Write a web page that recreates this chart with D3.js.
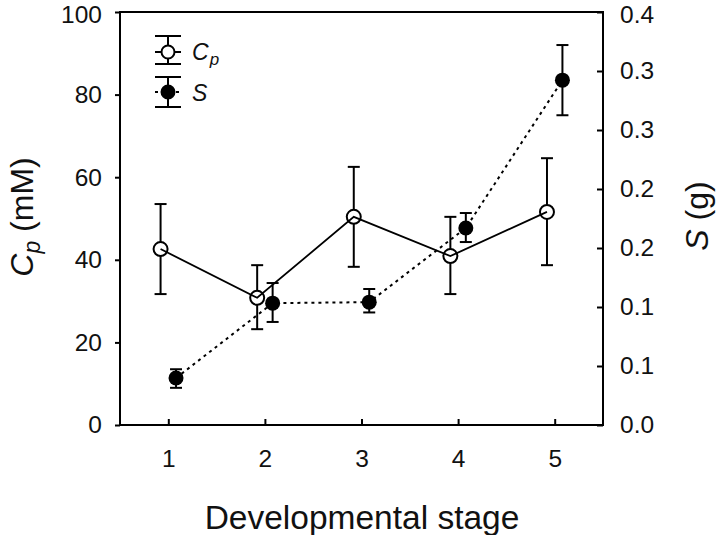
<!DOCTYPE html>
<html><head><meta charset="utf-8">
<script src="https://cdn.jsdelivr.net/npm/d3@7"></script>
<style>body{margin:0;background:#fff}svg{display:block;font-family:"Liberation Sans",Arial,sans-serif}</style>
</head><body>
<svg id="c" width="720" height="535"></svg>
<script>
const stages = [1, 2, 3, 4, 5];
const cpMean = [42.6, 30.8, 50.4, 40.9, 51.6];
const cpUpper = [53.5, 38.7, 62.5, 50.4, 64.6];
const cpLower = [31.7, 23.2, 38.3, 31.7, 38.7];
const sMean = [0.0455, 0.118, 0.119, 0.1908, 0.334];
const sUpper = [0.054, 0.1375, 0.1317, 0.2053, 0.368];
const sLower = [0.036, 0.0998, 0.109, 0.1772, 0.300];
const xTicks = [1, 2, 3, 4, 5];
const leftTicks = [0, 20, 40, 60, 80, 100];
const rightTickLabels = ["0.0", "0.1", "0.1", "0.2", "0.2", "0.3", "0.3", "0.4"];

const svg = d3.select("#c");
const L = 120, R = 603, T = 12, B = 425;
const x = d3.scaleLinear().domain([0.5, 5.5]).range([L, R]);
const yL = d3.scaleLinear().domain([0, 100]).range([B, T]);
const yR = d3.scaleLinear().domain([0, 0.4]).range([B, T]);
const off = 0.08;

// frame
svg.append("rect").attr("x", L).attr("y", T).attr("width", R - L).attr("height", B - T)
  .attr("fill", "none").attr("stroke", "#000").attr("stroke-width", 2);

// axes
const fs = 24.5;
const ax = svg.append("g").attr("transform", `translate(0,${B})`)
  .call(d3.axisBottom(x).tickValues(xTicks).tickFormat(d3.format("d")).tickSizeInner(-6).tickSizeOuter(0).tickPadding(25));
const ay = svg.append("g").attr("transform", `translate(${L},0)`)
  .call(d3.axisLeft(yL).tickValues(leftTicks).tickSizeInner(5).tickSizeOuter(0).tickPadding(13));
const rTickVals = rightTickLabels.map((_, i) => i * 0.4 / (rightTickLabels.length - 1));
const ar = svg.append("g").attr("transform", `translate(${R},0)`)
  .call(d3.axisRight(yR).tickValues(rTickVals).tickFormat((d, i) => rightTickLabels[i]).tickSizeInner(-6).tickSizeOuter(0).tickPadding(17));
[ax, ay, ar].forEach(g => {
  g.attr("font-size", fs).attr("font-family", "Liberation Sans, Arial, sans-serif");
  g.select(".domain").remove();
  g.selectAll(".tick line").attr("stroke", "#000").attr("stroke-width", 2);
  g.selectAll(".tick text").attr("font-size", fs).attr("fill", "#111");
});
// keep the topmost labels inside the page
ay.selectAll(".tick text").filter(d => d === 100).attr("dy", "0.42em");
ar.selectAll(".tick text").filter(d => Math.abs(d - 0.4) < 1e-9).attr("dy", "0.42em");

// S dotted line
const sPts = stages.map((s, i) => [x(s + off), yR(sMean[i])]);
svg.append("path").attr("d", d3.line()(sPts)).attr("fill", "none").attr("stroke", "#000")
  .attr("stroke-width", 2).attr("stroke-dasharray", "3,4");

function errBars(xs, lo, hi, ysc) {
  const g = svg.append("g").attr("stroke", "#000").attr("stroke-width", 2);
  xs.forEach((s, i) => {
    const cx = x(s);
    g.append("line").attr("x1", cx).attr("x2", cx).attr("y1", ysc(lo[i])).attr("y2", ysc(hi[i]));
    g.append("line").attr("x1", cx - 6).attr("x2", cx + 6).attr("y1", ysc(lo[i])).attr("y2", ysc(lo[i]));
    g.append("line").attr("x1", cx - 6).attr("x2", cx + 6).attr("y1", ysc(hi[i])).attr("y2", ysc(hi[i]));
  });
}
errBars(stages.map(s => s + off), sLower, sUpper, yR);
errBars(stages.map(s => s - off), cpLower, cpUpper, yL);

// Cp markers
const cpPts = stages.map((s, i) => [x(s - off), yL(cpMean[i])]);
svg.append("g").selectAll("circle").data(cpPts).join("circle")
  .attr("cx", d => d[0]).attr("cy", d => d[1]).attr("r", 7)
  .attr("fill", "#fff").attr("stroke", "#000").attr("stroke-width", 2);
svg.append("path").attr("d", d3.line()(cpPts)).attr("fill", "none").attr("stroke", "#000").attr("stroke-width", 1.8);
// S markers
svg.append("g").selectAll("circle").data(sPts).join("circle")
  .attr("cx", d => d[0]).attr("cy", d => d[1]).attr("r", 7.5).attr("fill", "#000");

// legend
const lg = svg.append("g").attr("stroke", "#000").attr("stroke-width", 2);
function legItem(cy, top, bot, filled, dashed) {
  const cx = 168;
  lg.append("line").attr("x1", cx).attr("x2", cx).attr("y1", top).attr("y2", bot);
  lg.append("line").attr("x1", cx - 13).attr("x2", cx + 13).attr("y1", top).attr("y2", top);
  lg.append("line").attr("x1", cx - 13).attr("x2", cx + 13).attr("y1", bot).attr("y2", bot);
  lg.append("line").attr("x1", cx - 13).attr("x2", cx + 13).attr("y1", cy).attr("y2", cy)
    .attr("stroke-dasharray", dashed ? "3,4" : null);
  lg.append("circle").attr("cx", cx).attr("cy", cy).attr("r", 6.5)
    .attr("fill", filled ? "#000" : "#fff").attr("stroke", "#000");
}
legItem(52, 36, 64, false, false);
legItem(92, 77, 107, true, true);
const lt = svg.append("g").attr("font-size", 23).attr("font-style", "italic").attr("fill", "#111");
const t1 = lt.append("text").attr("x", 192).attr("y", 60);
t1.append("tspan").text("C");
t1.append("tspan").text("p").attr("font-size", 17).attr("dy", 5).attr("dx", 1);
lt.append("text").attr("x", 192).attr("y", 101).text("S");

// titles
svg.append("text").attr("x", 362).attr("y", 529).attr("text-anchor", "middle")
  .attr("font-size", 33.5).attr("fill", "#111").text("Developmental stage");
const yt = svg.append("text").attr("transform", "translate(33,217) rotate(-90)")
  .attr("text-anchor", "middle").attr("font-size", 32).attr("fill", "#111");
yt.append("tspan").text("C").attr("font-style", "italic");
yt.append("tspan").text("p").attr("font-style", "italic").attr("font-size", 23).attr("dy", 7);
yt.append("tspan").text(" (mM)").attr("dy", -7);
const rt = svg.append("text").attr("transform", "translate(708,216) rotate(-90)")
  .attr("text-anchor", "middle").attr("font-size", 32).attr("fill", "#111");
rt.append("tspan").text("S").attr("font-style", "italic");
rt.append("tspan").text(" (g)");
</script>
</body></html>
